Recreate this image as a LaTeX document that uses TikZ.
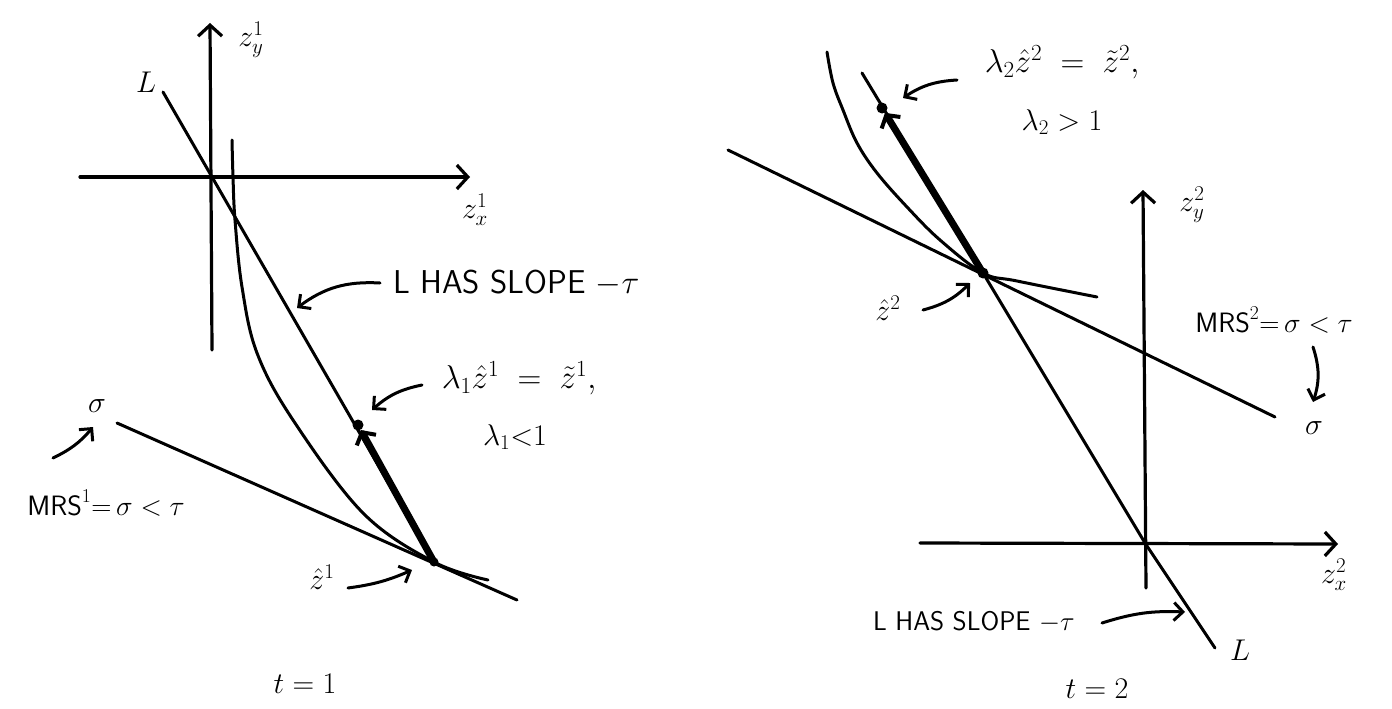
\RequirePackage{fix-cm}
\documentclass[tikz,border=0pt]{standalone}
\usetikzlibrary{arrows.meta}
\begin{document}
\begin{tikzpicture}[x=1pt,y=-1pt,line cap=round,line join=round,
  ln/.style={line width=3pt},
  axisline/.style={line width=3.2pt,-{Straight Barb[length=11pt,width=24pt,line width=3.2pt]}},
  bigarrow/.style={line width=7pt,-{Straight Barb[length=9pt,width=22pt,line width=4pt]}},
  note/.style={line width=3pt,-{Straight Barb[length=9pt,width=18pt,line width=3pt]}},
  lab/.style={inner sep=0pt,font=\fontsize{30}{32}\selectfont},
  biglab/.style={inner sep=0pt,font=\fontsize{33}{35}\selectfont},
  caplab/.style={inner sep=0pt,font=\fontsize{33}{35}\selectfont\sffamily},
  smallcap/.style={inner sep=0pt,font=\fontsize{27}{29}\selectfont\sffamily},
  mrslab/.style={inner sep=0pt,font=\fontsize{28}{30}\selectfont},
  dotnode/.style={circle,fill,inner sep=0pt,minimum size=11pt}]
\useasboundingbox (0,0) rectangle (1392,709);

% ---------------- left panel (t=1) ----------------
\coordinate (Y1b) at (212,350);
\coordinate (Y1t) at (210,23);
\coordinate (X1l) at (80,177);
\coordinate (X1r) at (470,177);
\draw[axisline] (Y1b) -- (Y1t);
\draw[axisline] (X1l) -- (X1r);

\coordinate (L1a) at (163,92);
\node[dotnode,minimum size=9pt] (P1) at (434,562) {};
\node[dotnode] (Q1) at (358,425) {};
\draw[ln] (L1a) -- (P1.center);
\coordinate (S1a) at (117,423);
\coordinate (S1b) at (517,600);
\draw[ln] (S1a) -- (S1b);
\draw[ln] plot[smooth,tension=0.6] coordinates {(232,140) (233,177) (235,220) (242,287) (257,353) (293,420) (363,513) (434,562) (488,580)};
\draw[bigarrow] (P1.center) -- (Q1);

\node[lab] (Llab1) at (146,82) {$L$};
\node[lab] (zy1) at (251,40) {$z^1_y$};
\node[lab] (zx1) at (475,210) {$z^1_x$};

\node[caplab,anchor=west] (has1) at (393,283) {L HAS SLOPE $-\tau$};
\coordinate (h1t) at (380,283);
\coordinate (h1h) at (297,308);
\draw[note] (h1t) to[bend right=20] (h1h);

\node[biglab] (lam1) at (519,378) {$\lambda_1\hat z^1 \;=\; \tilde z^1,$};
\coordinate (m1t) at (422,385);
\coordinate (m1h) at (372,410);
\draw[note] (m1t) to[bend right=15] (m1h);
\node[lab] (lt1) at (515,437) {$\lambda_1{<}1$};

\node[lab] (sig1) at (97,406) {$\sigma$};
\coordinate (s1t) at (53,458);
\coordinate (s1h) at (93,427);
\draw[note] (s1t) to[bend right=12] (s1h);
\node[mrslab] (mrs1) at (106,503) {$\textsf{MRS}^1{=}\,\sigma < \tau$};

\node[lab] (hz1) at (322,577) {$\hat z^1$};
\coordinate (z1t) at (348,588);
\coordinate (z1h) at (412,570);
\draw[note] (z1t) to[bend right=8] (z1h);

\node[lab] (t1) at (305,684) {$t=1$};

% ---------------- right panel (t=2) ----------------
\coordinate (Y2b) at (1146,588);
\coordinate (Y2t) at (1143,190);
\coordinate (X2l) at (920,543);
\coordinate (X2r) at (1338,544);
\draw[axisline] (Y2b) -- (Y2t);
\draw[axisline] (X2l) -- (X2r);

\coordinate (L2a) at (862,73);
\node[dotnode] (P2) at (983,273) {};
\node[dotnode] (Q2) at (882,108) {};
\coordinate (L2b) at (1215,648);
\draw[ln] (L2a) -- (P2.center) -- (1145,543) -- (L2b);
\coordinate (S2a) at (728,150);
\coordinate (S2b) at (1275,417);
\draw[ln] (S2a) -- (S2b);
\draw[ln] plot[smooth,tension=0.6] coordinates {(827,52) (833,83) (843,110) (857,143) (877,173) (907,207) (940,240) (983,273) (1017,281) (1097,297)};
\draw[bigarrow] (P2.center) -- (Q2);

\node[biglab] (lam2) at (1062,62) {$\lambda_2\hat z^2 \;=\; \tilde z^2,$};
\coordinate (m2t) at (957,80);
\coordinate (m2h) at (903,98);
\draw[note] (m2t) to[bend right=15] (m2h);
\node[lab] (gt2) at (1062,122) {$\lambda_2 > 1$};

\node[lab] (hz2) at (888,308) {$\hat z^2$};
\coordinate (z2t) at (923,310);
\coordinate (z2h) at (970,283);
\draw[note] (z2t) to[bend right=15] (z2h);

\node[lab] (zy2) at (1192,205) {$z^2_y$};
\node[lab] (zx2) at (1334,575) {$z^2_x$};

\node[mrslab] (mrs2) at (1274,320) {$\textsf{MRS}^2{=}\,\sigma < \tau$};
\coordinate (a2t) at (1313,347);
\coordinate (a2h) at (1313,402);
\draw[note] (a2t) to[bend left=18] (a2h);
\node[lab] (sig2) at (1314,428) {$\sigma$};

\node[smallcap,anchor=west] (has2) at (873,622) {L HAS SLOPE $-\tau$};
\coordinate (h2t) at (1102,623);
\coordinate (h2h) at (1185,612);
\draw[note] (h2t) to[bend left=10] (h2h);
\node[lab] (Llab2) at (1240,650) {$L$};

\node[lab] (t2) at (1097,689) {$t=2$};
\end{tikzpicture}
\end{document}
